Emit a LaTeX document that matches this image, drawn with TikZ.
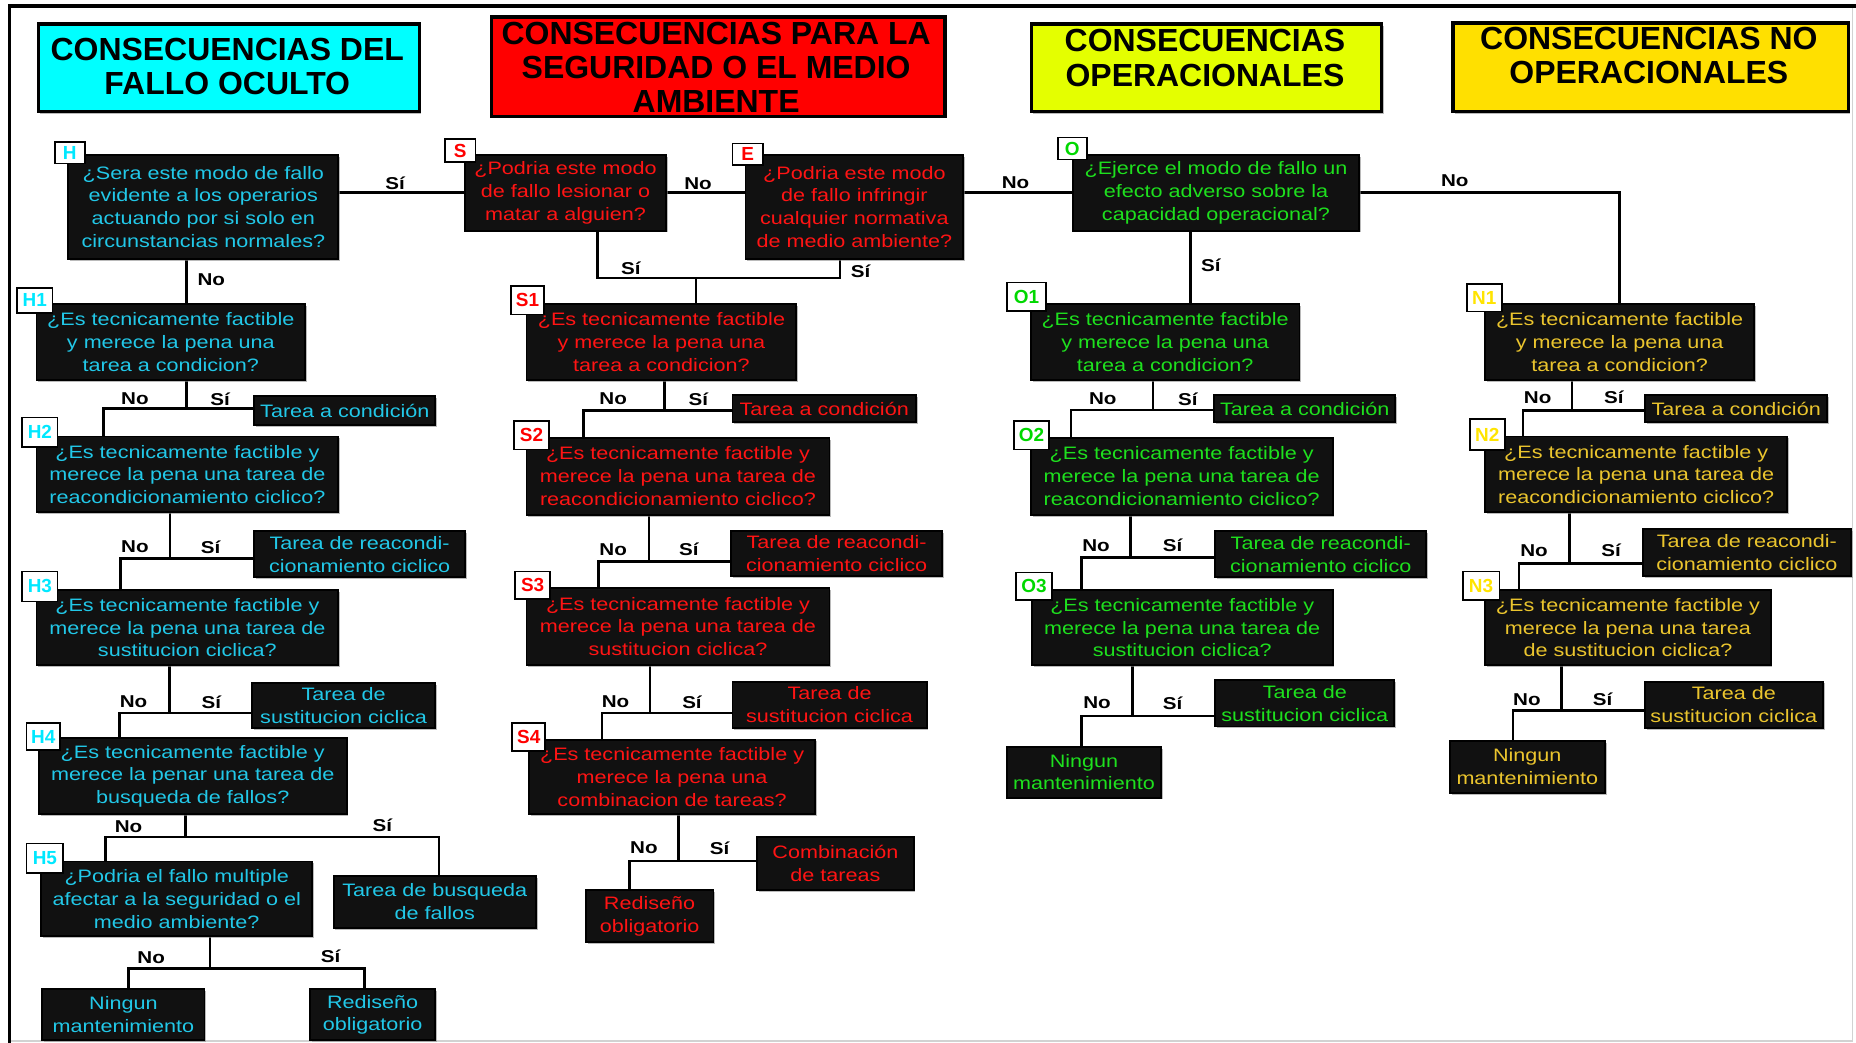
\documentclass[tikz,border=0pt]{standalone}
\usepackage{fontspec}
\setmainfont{Liberation Sans}[FakeStretch=1.2]
\newfontfamily\hdrfont{Liberation Sans}
\usetikzlibrary{shadows,calc}
\definecolor{cyT}{HTML}{22C8E8}
\definecolor{rdT}{HTML}{FF1414}
\definecolor{grT}{HTML}{1EE01E}
\definecolor{ylT}{HTML}{EBC52E}
\definecolor{cyH}{HTML}{00FFFF}
\definecolor{rdH}{HTML}{FF0000}
\definecolor{grH}{HTML}{E4FF00}
\definecolor{ylH}{HTML}{FFE000}
\definecolor{boxfill}{HTML}{111111}
\definecolor{tagC}{HTML}{00E8FF}
\definecolor{tagR}{HTML}{FF0000}
\definecolor{tagG}{HTML}{00D800}
\definecolor{tagY}{HTML}{FFE400}
\pgfdeclarelayer{bg}
\pgfsetlayers{bg,main}
\tikzset{
  bx/.style={rectangle, draw=black, line width=1.6pt, fill=boxfill, inner sep=0pt, align=center,
    font=\fontsize{15.2}{19.3}\selectfont,
    drop shadow={shadow xshift=1.6pt, shadow yshift=-1.6pt, fill=black!45, opacity=0.6}},
  cy/.style={bx, text=cyT}, rd/.style={bx, text=rdT}, gr/.style={bx, text=grT}, yl/.style={bx, text=ylT},
  hdr/.style={rectangle, draw=black, line width=2.8pt, inner sep=0pt, anchor=north west,
    drop shadow={shadow xshift=1.6pt, shadow yshift=-1.6pt, fill=black!45, opacity=0.6}},
  hdrtxt/.style={align=center, inner sep=0pt, font=\hdrfont\bfseries\fontsize{27}{29}\selectfont},
  tagbox/.style={rectangle, draw=black, fill=white, line width=1.4pt, inner sep=0pt,
    font=\hdrfont\bfseries\fontsize{16}{16}\selectfont},
  yn/.style={inner sep=0pt, text=black, font=\bfseries\fontsize{14.5}{15}\selectfont},
  conn/.style={draw=black, line width=2.2pt},
}
\newcommand\boxat[6]{\node[#1,anchor=north west,minimum width=#4pt-#2pt,minimum height=#5pt-#3pt] (#6) at (#2,#3)}
\newcommand\tagat[6]{\node[tagbox,text=#1,anchor=north west,minimum width=#4pt-#2pt,minimum height=#5pt-#3pt] (#6) at (#2,#3)}
\newcommand\ynat[4]{\node[yn] (#1) at (#2,#3) {#4};}

\begin{document}
\begin{tikzpicture}[x=1pt,y=-1pt]
\useasboundingbox (0,0) rectangle (1568,881);
% frame
\draw[gray!35, line width=1pt] (1565,5) -- (1565,879.5) -- (8,879.5);
\draw[black, line width=3pt] (8,881) -- (8,5) -- (1568,5);

% headers
\node[hdr, fill=cyH, minimum width=322pt, minimum height=74pt] (hdrH) at (31,19) {};
\node[hdrtxt] (hdrHt) at (192,56) {CONSECUENCIAS DEL\\FALLO OCULTO};
\node[hdr, fill=rdH, minimum width=383pt, minimum height=84pt] (hdrS) at (414,13) {};
\node[hdrtxt] (hdrSt) at (605,57) {CONSECUENCIAS PARA LA\\SEGURIDAD O EL MEDIO\\AMBIENTE};
\node[hdr, fill=grH, minimum width=296pt, minimum height=74pt] (hdrO) at (870,19) {};
\node[hdrtxt] (hdrOt) at (1018,49) {CONSECUENCIAS\\OPERACIONALES};
\node[hdr, fill=ylH, minimum width=334pt, minimum height=75pt] (hdrN) at (1226,18) {};
\node[hdrtxt] (hdrNt) at (1393,47) {CONSECUENCIAS NO\\OPERACIONALES};

% top questions
\boxat{cy}{57}{130}{285}{218}{H} {¿Sera este modo de fallo\\evidente a los operarios\\actuando por si solo en\\circunstancias normales?};
\boxat{rd}{392}{130}{562}{194}{S} {¿Podria este modo\\de fallo lesionar o\\matar a alguien?};
\boxat{rd}{629}{130}{813}{218}{E} {¿Podria este modo\\de fallo infringir\\cualquier normativa\\de medio ambiente?};
\boxat{gr}{906}{130}{1147}{194}{O} {¿Ejerce el modo de fallo un\\efecto adverso sobre la\\capacidad operacional?};

% level 1
\boxat{cy}{30}{256}{257}{320}{H1} {¿Es tecnicamente factible\\y merece la pena una\\tarea a condicion?};
\boxat{rd}{444}{256}{672}{320}{S1} {¿Es tecnicamente factible\\y merece la pena una\\tarea a condicion?};
\boxat{gr}{870}{256}{1097}{320}{O1} {¿Es tecnicamente factible\\y merece la pena una\\tarea a condicion?};
\boxat{yl}{1254}{256}{1481}{320}{N1} {¿Es tecnicamente factible\\y merece la pena una\\tarea a condicion?};

\boxat{cy}{214}{334}{367}{358}{H1y} {Tarea a condición};
\boxat{rd}{618}{333}{773}{356}{S1y} {Tarea a condición};
\boxat{gr}{1025}{333}{1178}{356}{O1y} {Tarea a condición};
\boxat{yl}{1389}{333}{1543}{356}{N1y} {Tarea a condición};

% level 2
\boxat{cy}{30}{368}{285}{432}{H2} {¿Es tecnicamente factible y\\merece la pena una tarea de\\reacondicionamiento ciclico?};
\boxat{rd}{444}{369}{700}{434}{S2} {¿Es tecnicamente factible y\\merece la pena una tarea de\\reacondicionamiento ciclico?};
\boxat{gr}{870}{369}{1125}{434}{O2} {¿Es tecnicamente factible y\\merece la pena una tarea de\\reacondicionamiento ciclico?};
\boxat{yl}{1254}{368}{1509}{432}{N2} {¿Es tecnicamente factible y\\merece la pena una tarea de\\reacondicionamiento ciclico?};

\boxat{cy}{214}{448}{392}{487}{H2y} {Tarea de reacondi-\\cionamiento ciclico};
\boxat{rd}{617}{448}{795}{486}{S2y} {Tarea de reacondi-\\cionamiento ciclico};
\boxat{gr}{1026}{448}{1204}{487}{O2y} {Tarea de reacondi-\\cionamiento ciclico};
\boxat{yl}{1387}{446}{1563}{486}{N2y} {Tarea de reacondi-\\cionamiento ciclico};

% level 3
\boxat{cy}{30}{498}{285}{561}{H3} {¿Es tecnicamente factible y\\merece la pena una tarea de\\sustitucion ciclica?};
\boxat{rd}{444}{496}{700}{561}{S3} {¿Es tecnicamente factible y\\merece la pena una tarea de\\sustitucion ciclica?};
\boxat{gr}{871}{498}{1125}{561}{O3} {¿Es tecnicamente factible y\\merece la pena una tarea de\\sustitucion ciclica?};
\boxat{yl}{1254}{498}{1495}{561}{N3} {¿Es tecnicamente factible y\\merece la pena una tarea\\de sustitucion ciclica?};

\boxat{cy}{212}{576}{367}{614}{H3y} {Tarea de\\sustitucion ciclica};
\boxat{rd}{618}{575}{782}{614}{S3y} {Tarea de\\sustitucion ciclica};
\boxat{gr}{1026}{574}{1177}{613}{O3y} {Tarea de\\sustitucion ciclica};
\boxat{yl}{1389}{575}{1539}{614}{N3y} {Tarea de\\sustitucion ciclica};

\boxat{gr}{850}{630}{980}{673}{O3n} {Ningun\\mantenimiento};
\boxat{yl}{1224}{625}{1355}{669}{N3n} {Ningun\\mantenimiento};

% level 4
\boxat{cy}{32}{623}{292}{687}{H4} {¿Es tecnicamente factible y\\merece la penar una tarea de\\busqueda de fallos?};
\boxat{rd}{446}{624}{688}{687}{S4} {¿Es tecnicamente factible y\\merece la pena una\\combinacion de tareas?};
\boxat{cy}{281}{739}{452}{783}{H4y} {Tarea de busqueda\\de fallos};
\boxat{rd}{639}{706}{771}{751}{S4y} {Combinación\\de tareas};
\boxat{rd}{494}{751}{602}{795}{S4n} {Rediseño\\obligatorio};

% level 5
\boxat{cy}{34}{727}{263}{790}{H5} {¿Podria el fallo multiple\\afectar a la seguridad o el\\medio ambiente?};
\boxat{cy}{35}{835}{172}{878}{H5n} {Ningun\\mantenimiento};
\boxat{cy}{261}{835}{367}{878}{H5y} {Rediseño\\obligatorio};

% tags
\tagat{tagC}{45.5}{119}{71}{137.5}{tH} {H};
\tagat{tagR}{375}{117}{401}{136}{tS} {S};
\tagat{tagR}{618}{120.5}{644}{138.5}{tE} {E};
\tagat{tagG}{893}{115.5}{917.5}{134}{tO} {O};
\tagat{tagC}{13.5}{242.6}{43.7}{263.6}{tH1} {H1};
\tagat{tagR}{431}{241}{459}{265}{tS1} {S1};
\tagat{tagG}{850}{238}{883}{262}{tO1} {O1};
\tagat{tagY}{1238.5}{239}{1268}{262.5}{tN1} {N1};
\tagat{tagC}{18}{352}{48}{377}{tH2} {H2};
\tagat{tagR}{433.6}{355}{463}{379}{tS2} {S2};
\tagat{tagG}{856}{355}{885.5}{379}{tO2} {O2};
\tagat{tagY}{1241}{353.4}{1270.6}{379.6}{tN2} {N2};
\tagat{tagC}{18}{482}{48}{507.5}{tH3} {H3};
\tagat{tagR}{434.5}{482}{464}{505.5}{tS3} {S3};
\tagat{tagG}{857.6}{483}{888.3}{506.3}{tO3} {O3};
\tagat{tagY}{1235}{482}{1266}{506}{tN3} {N3};
\tagat{tagC}{21.7}{610}{50}{633}{tH4} {H4};
\tagat{tagR}{432}{610}{460}{634}{tS4} {S4};
\tagat{tagC}{21.7}{712}{52.8}{736.7}{tH5} {H5};

% junction coordinates
\coordinate (jSE) at (588,235);
\coordinate (jH1) at (157.7,345);  \coordinate (kH1) at (87.3,345);
\coordinate (jH2) at (143.6,472);  \coordinate (kH2) at (102,472);
\coordinate (jH3) at (143.3,602.5); \coordinate (kH3) at (101,602.5);
\coordinate (jH4) at (156.8,707);  \coordinate (kH4) at (89,707); \coordinate (mH4) at (371,707);
\coordinate (jH5) at (177.4,818);  \coordinate (kH5) at (108.6,818); \coordinate (mH5) at (307.8,818);
\coordinate (jS1) at (561.2,347);  \coordinate (kS1) at (492.8,347);
\coordinate (jS2) at (548.3,474.5); \coordinate (kS2) at (505.5,474.5);
\coordinate (jS3) at (549,602.5);  \coordinate (kS3) at (508.5,602.5);
\coordinate (jS4) at (573,727.4);  \coordinate (kS4) at (531.8,727.4);
\coordinate (jO1) at (974.2,346.4); \coordinate (kO1) at (904.8,346.4);
\coordinate (jO2) at (955.3,470.8); \coordinate (kO2) at (913.8,470.8);
\coordinate (jO3) at (956.8,605);  \coordinate (kO3) at (913.8,605);
\coordinate (jN1) at (1328.2,347); \coordinate (kN1) at (1286.6,347);
\coordinate (jN2) at (1325.9,476); \coordinate (kN2) at (1283.3,476);
\coordinate (jN3) at (1319.3,600.4); \coordinate (kN3) at (1278.2,600.4);

\begin{pgfonlayer}{bg}
% top row
\draw[conn] (S.west -| H.east) -- (S.west);
\draw[conn] (S.east) -- (S.east -| E.west);
\draw[conn] (O.west -| E.east) -- (O.west);
\draw[conn] (O.east) -| (N1.north);
\draw[conn] ([xshift=27pt]S.south) |- ([xshift=-12pt]E.south |- jSE) -- ([xshift=-12pt]E.south);
\draw[conn] (jSE) -- (jSE |- S1.north);
\draw[conn] ([xshift=-14pt]H.south) -- ([xshift=-14pt]H.south |- H1.north);
\draw[conn] ([xshift=-21.5pt]O.south) -- ([xshift=-21.5pt]O.south |- O1.north);
% H column
\draw[conn] (H1.south -| jH1) -- (jH1);
\draw[conn] (kH1 |- H2.north) -- (kH1) -- (kH1 -| H1y.west);
\draw[conn] (H2.south -| jH2) -- (jH2);
\draw[conn] (kH2 |- H3.north) -- (kH2) -- (kH2 -| H2y.west);
\draw[conn] (H3.south -| jH3) -- (jH3);
\draw[conn] (kH3 |- H4.north) -- (kH3) -- (kH3 -| H3y.west);
\draw[conn] (H4.south -| jH4) -- (jH4);
\draw[conn] (kH4 |- H5.north) -- (kH4) -- (mH4) -- (mH4 |- H4y.north);
\draw[conn] (H5.south -| jH5) -- (jH5);
\draw[conn] (kH5 |- H5n.north) -- (kH5) -- (mH5) -- (mH5 |- H5y.north);
% S column
\draw[conn] (S1.south -| jS1) -- (jS1);
\draw[conn] (kS1 |- S2.north) -- (kS1) -- (kS1 -| S1y.west);
\draw[conn] (S2.south -| jS2) -- (jS2);
\draw[conn] (kS2 |- S3.north) -- (kS2) -- (kS2 -| S2y.west);
\draw[conn] (S3.south -| jS3) -- (jS3);
\draw[conn] (kS3 |- S4.north) -- (kS3) -- (kS3 -| S3y.west);
\draw[conn] (S4.south -| jS4) -- (jS4);
\draw[conn] (kS4 |- S4n.north) -- (kS4) -- (kS4 -| S4y.west);
% O column
\draw[conn] (O1.south -| jO1) -- (jO1);
\draw[conn] (kO1 |- O2.north) -- (kO1) -- (kO1 -| O1y.west);
\draw[conn] (O2.south -| jO2) -- (jO2);
\draw[conn] (kO2 |- O3.north) -- (kO2) -- (kO2 -| O2y.west);
\draw[conn] (O3.south -| jO3) -- (jO3);
\draw[conn] (kO3 |- O3n.north) -- (kO3) -- (kO3 -| O3y.west);
% N column
\draw[conn] (N1.south -| jN1) -- (jN1);
\draw[conn] (kN1 |- N2.north) -- (kN1) -- (kN1 -| N1y.west);
\draw[conn] (N2.south -| jN2) -- (jN2);
\draw[conn] (kN2 |- N3.north) -- (kN2) -- (kN2 -| N2y.west);
\draw[conn] (N3.south -| jN3) -- (jN3);
\draw[conn] (kN3 |- N3n.north) -- (kN3) -- (kN3 -| N3y.west);
\end{pgfonlayer}

% yes / no labels
\ynat{l1}{333.7}{155}{Sí}
\ynat{l2}{589.7}{155}{No}
\ynat{l3}{858}{154}{No}
\ynat{l4}{1229}{153}{No}
\ynat{l5}{533}{227}{Sí}
\ynat{l6}{727}{229.5}{Sí}
\ynat{l7}{178.5}{236.5}{No}
\ynat{l8}{1023}{224}{Sí}
\ynat{lh1n}{114}{337}{No}   \ynat{lh1s}{186}{337}{Sí}
\ynat{lh2n}{114}{462}{No}   \ynat{lh2s}{178}{462}{Sí}
\ynat{lh3n}{112.8}{593}{No} \ynat{lh3s}{178.5}{593}{Sí}
\ynat{lh4n}{108.6}{698.4}{No} \ynat{lh4s}{323}{697}{Sí}
\ynat{lh5n}{127.7}{809}{No} \ynat{lh5s}{279.4}{807.6}{Sí}
\ynat{ls1n}{518}{337}{No}   \ynat{ls1s}{590}{337}{Sí}
\ynat{ls2n}{518}{464}{No}   \ynat{ls2s}{582}{464}{Sí}
\ynat{ls3n}{520}{593}{No}   \ynat{ls3s}{584.6}{593}{Sí}
\ynat{ls4n}{544}{716}{No}   \ynat{ls4s}{608}{717}{Sí}
\ynat{lo1n}{931.7}{337}{No} \ynat{lo1s}{1003.5}{337}{Sí}
\ynat{lo2n}{926}{461}{No}   \ynat{lo2s}{990.7}{461}{Sí}
\ynat{lo3n}{926.8}{594}{No} \ynat{lo3s}{990.6}{594}{Sí}
\ynat{ln1n}{1299}{336}{No}  \ynat{ln1s}{1363.5}{336}{Sí}
\ynat{ln2n}{1296}{465}{No}  \ynat{ln2s}{1361}{465}{Sí}
\ynat{ln3n}{1290}{591}{No}  \ynat{ln3s}{1354}{591}{Sí}
\end{tikzpicture}
\end{document}
